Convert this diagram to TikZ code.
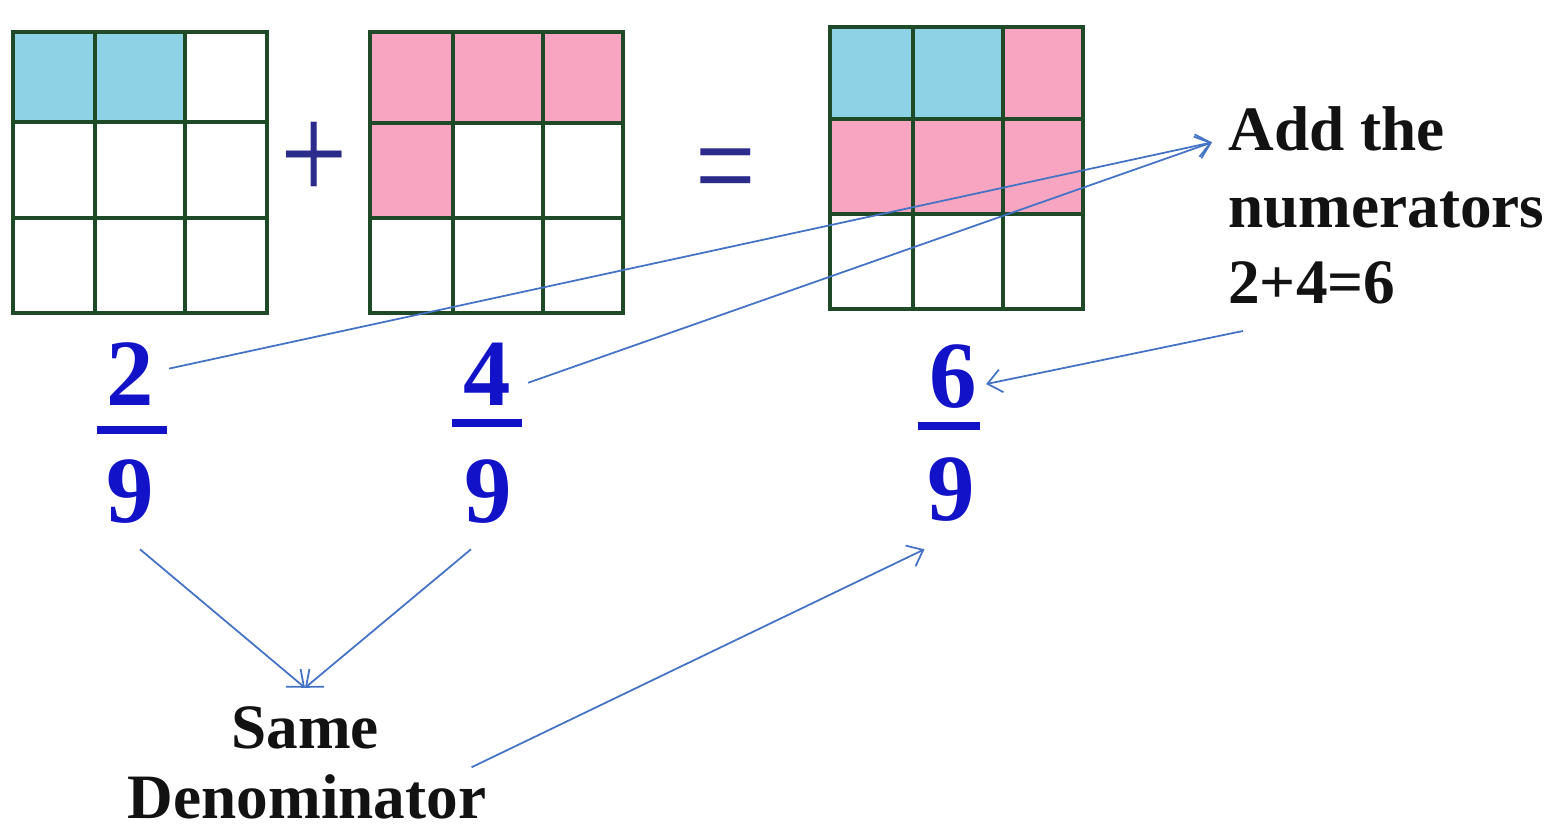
\documentclass[tikz,border=0pt]{standalone}
\usepackage{fontspec}
\setmainfont{Liberation Serif}
\usetikzlibrary{arrows.meta,calc}
\definecolor{cellblue}{HTML}{8DD3E5}
\definecolor{cellpink}{HTML}{F7A5C1}
\definecolor{gridgreen}{HTML}{1E4A28}
\definecolor{fracblue}{RGB}{18,18,200}
\definecolor{opblue}{HTML}{2B2B8C}
\definecolor{arrowblue}{HTML}{4472C4}
\begin{document}
\begin{tikzpicture}[x=0.02cm,y=-0.02cm,
  gridline/.style={gridgreen, line width=0.08cm},
  digit/.style={text=fracblue, font=\fontsize{54}{54}\selectfont\bfseries, inner sep=0pt, anchor=base},
  fracbar/.style={fracblue, line width=0.16cm},
  oper/.style={text=opblue, inner sep=0pt},
  lbl/.style={font=\fontsize{36}{36}\selectfont\bfseries, inner sep=0pt, text=black!93},
  conn/.style={arrowblue, line width=1pt, -{Straight Barb[length=2.8mm,width=4.6mm]}},
  ]
\fill[white] (0,0) rectangle (1554,833);
\useasboundingbox (0,0) rectangle (1554,833);

% grid 1 : 2/9
\fill[cellblue] (13,32) rectangle (185,122);
\draw[gridline] (13,32) rectangle (267,313);
\foreach \x in {95,185} \draw[gridline] (\x,32) -- (\x,313);
\foreach \y in {122,218} \draw[gridline] (13,\y) -- (267,\y);

% grid 2 : 4/9
\fill[cellpink] (370,32) rectangle (623,123);
\fill[cellpink] (370,123) rectangle (453,218);
\draw[gridline] (370,32) rectangle (623,313);
\foreach \x in {453,543} \draw[gridline] (\x,32) -- (\x,313);
\foreach \y in {123,218} \draw[gridline] (370,\y) -- (623,\y);

% grid 3 : 6/9
\fill[cellblue] (830,27) rectangle (1003,119);
\fill[cellpink] (1003,27) rectangle (1083,119);
\fill[cellpink] (830,119) rectangle (1083,214);
\draw[gridline] (830,27) rectangle (1083,309);
\foreach \x in {913,1003} \draw[gridline] (\x,27) -- (\x,309);
\foreach \y in {119,214} \draw[gridline] (830,\y) -- (1083,\y);

% operators
\node[oper] (plus) at (314,161) {\fontsize{68}{68}\selectfont\scalebox{1}[1.16]{+}};
\node[oper, anchor=base] (eq) at (725.5,212) {\fontsize{61}{61}\selectfont\scalebox{1}[1.3]{=}};

% fractions
\node[digit] (n1) at (130,405) {2};
\node[digit] (d1) at (130,522) {9};
\draw[fracbar] (97,430) -- (167,430);
\node[digit] (n2) at (487,405) {4};
\node[digit] (d2) at (488,522) {9};
\draw[fracbar] (452,423) -- (522,423);
\node[digit] (n3) at (953,407) {6};
\node[digit] (d3) at (951,520) {9};
\draw[fracbar] (918,426) -- (980,426);

% labels
\node[lbl, anchor=base west] (addA) at (1228,150) {Add the};
\node[lbl, anchor=base west] (addB) at (1228,227) {numerators};
\node[lbl, anchor=base west] (addC) at (1228,303) {2+4=6};
\node[lbl, anchor=base] (same) at (305,748) {Same};
\node[lbl, anchor=base] (denom) at (307,818) {Denominator};

% connectors
\draw[conn] ([shift={(15,-5)}]n1.east) -- ([shift={(-16,14)}]addA.west);
\draw[conn] ([shift={(17,9)}]n2.east) -- ([shift={(-16,14)}]addA.west);
\draw[conn] ([shift={(15,27)}]addC.south west) -- ([shift={(9,8)}]n3.east);
\draw[conn] ([shift={(10,26)}]d1.south) -- ([shift={(0,-18)}]same.north);
\draw[conn] ([shift={(-17,26)}]d2.south) -- ([shift={(0,-18)}]same.north);
\draw[conn] ([shift={(-15,-6.5)}]denom.north east) -- ([shift={(-2.5,28)}]d3.south west);
\end{tikzpicture}
\end{document}
